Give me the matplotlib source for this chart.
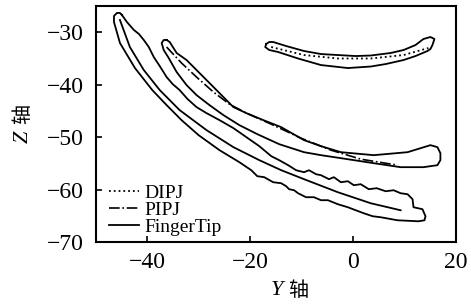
import numpy as np
import matplotlib
matplotlib.use('Agg')
import matplotlib.pyplot as plt

plt.rcParams['font.family'] = ['Liberation Serif', 'Noto Sans CJK SC']
plt.rcParams['axes.unicode_minus'] = True

# centre lines (Y axis, Z axis)
dipj_y = [-15.93, -9.55, -2.96, 3.43, 9.82, 14.64]
dipj_z = [-32.81, -34.34, -35.00, -35.00, -34.34, -33.00]

pipj_y = [-36.28, -33.38, -30.46, -27.17, -24.07, -20.77, -15.94, -10.13, -4.32, 1.49, 8.65]
pipj_z = [-32.81, -35.86, -38.54, -41.40, -43.70, -45.42, -47.52, -50.20, -52.48, -54.20, -55.35]

tip_y = [-45.36, -43.43, -40.72, -37.62, -33.75, -28.52, -23.29, -18.25, -14.00, -9.55, -2.96, 3.43, 9.24]
tip_z = [-27.65, -32.81, -37.20, -41.02, -44.84, -48.66, -51.91, -54.39, -56.30, -58.02, -60.51, -62.61, -63.95]

# outlines of the range around each trajectory
dipj_env_y = [-16.90, -16.32, -15.55, -13.03, -9.55, -6.25, -2.96, 0.52, 3.43, 7.30, 9.82, 12.14, 13.68,
              15.04, 15.82, 15.43, 15.04, 14.46, 12.14, 9.82, 6.33, 3.43, -1.03, -6.25, -10.71, -14.58,
              -16.32, -17.10, -16.90]
dipj_env_z = [-32.23, -31.85, -31.85, -32.62, -33.57, -34.15, -34.34, -34.53, -34.43, -33.95, -33.38, -32.43, -31.28,
              -30.90, -31.28, -32.43, -33.19, -33.57, -34.53, -35.29, -36.06, -36.53, -36.82, -36.25, -35.00, -33.76,
              -33.38, -32.81, -32.23]

pipj_env_y = [-36.28, -35.68, -34.33, -32.40, -30.46, -28.52, -26.58, -24.65, -23.29, -20.77, -17.48, -14.00,
              -9.55, -6.25, -2.38, 4.01, 10.59, 15.04, 16.40, 16.98, 16.98, 16.40,
              13.68, 9.24, 4.01, -2.38, -6.25, -9.55, -14.39, -18.64, -22.13, -25.23, -27.94, -30.46,
              -32.40, -34.33, -35.87, -36.85, -37.24, -36.85, -36.28]
pipj_env_z = [-31.47, -31.85, -33.95, -35.29, -37.20, -39.11, -41.02, -42.93, -44.27, -45.42, -46.75, -48.09,
              -50.57, -51.72, -52.87, -53.44, -52.87, -51.53, -51.91, -53.06, -54.39, -55.35,
              -55.73, -55.73, -54.97, -54.01, -53.44, -52.87, -51.34, -49.43, -47.71, -45.80, -43.89, -41.98,
              -40.07, -37.58, -34.91, -33.38, -32.04, -31.47, -31.47]

tip_env_y = [-44.98, -44.01, -42.65, -41.67, -40.72, -39.75, -38.78, -37.62, -36.28, -35.10, -33.75, -32.20,
             -30.46, -28.52, -26.00, -23.29, -20.77, -18.25, -15.93, -14.39, -12.64, -11.09, -9.55, -8.58,
             -7.22, -6.25, -4.70, -3.74, -2.38, -1.03, 0.14, 1.49, 3.04, 4.59, 6.33, 7.88, 9.24, 10.59,
             11.56, 11.75, 13.49, 14.08, 13.88,
             12.72, 8.65, 5.36, 3.81, 2.07, 0.52, -1.03, -2.96, -4.90, -6.25, -7.62, -9.16, -10.71, -11.48,
             -12.45, -13.03, -14.00, -15.55, -17.29, -18.64, -19.81, -22.13, -26.00, -30.07, -33.38, -36.28,
             -39.07, -42.44, -45.36, -46.52, -46.52, -45.94, -45.36, -44.98]
tip_env_z = [-26.69, -28.03, -29.56, -30.32, -31.47, -32.81, -34.72, -36.44, -38.54, -39.88, -41.02, -42.74,
             -44.27, -45.42, -46.75, -48.28, -50.00, -51.72, -53.63, -54.39, -55.35, -56.31, -56.69, -56.31,
             -57.07, -57.26, -58.02, -57.64, -58.60, -58.41, -59.17, -58.98, -59.93, -59.74, -60.32, -60.13, -60.70, -60.89,
             -61.84, -63.37, -63.75, -65.09, -65.86,
             -66.05, -65.86, -65.28, -65.09, -64.52, -63.95, -63.37, -62.80, -62.03, -62.03, -61.46, -61.46, -60.70, -60.13,
             -59.93, -59.36, -58.79, -58.60, -57.64, -57.45, -56.31, -54.78, -52.48, -49.61, -46.75, -43.89,
             -41.02, -36.82, -32.04, -28.03, -26.89, -26.31, -26.31, -26.69]

fig = plt.figure(figsize=(4.71, 3.04), dpi=100)
ax = fig.add_axes([0.204, 0.204, 0.764, 0.776])

ax.plot(dipj_env_y, dipj_env_z, color='k', lw=1.3)
ax.plot(pipj_env_y, pipj_env_z, color='k', lw=1.3)
ax.plot(tip_env_y, tip_env_z, color='k', lw=1.3)

ax.plot(dipj_y, dipj_z, color='k', lw=1.3, ls=':', label='DIPJ')
ax.plot(pipj_y, pipj_z, color='k', lw=1.2, ls='-.', label='PIPJ')
ax.plot(tip_y, tip_z, color='k', lw=1.3, ls='-', label='FingerTip')

ax.set_xlim(-50, 20)
ax.set_ylim(-70, -25)
ax.set_xticks([-40, -20, 0, 20])
ax.set_yticks([-30, -40, -50, -60, -70])
ax.tick_params(direction='in', length=4, width=1.2, labelsize=17,
               top=False, right=False)
ax.tick_params(axis='x', pad=7)
ax.tick_params(axis='y', pad=9)
for s in ax.spines.values():
    s.set_linewidth(1.5)

ax.legend(loc='lower left', bbox_to_anchor=(0.035, 0.025), frameon=False, fontsize=14,
          handlelength=1.55, handletextpad=0.3, labelspacing=-0.02, borderpad=0, borderaxespad=0)

fig.text(0.588, 0.046, 'Y', fontsize=16, style='italic', ha='center', va='center')
fig.text(0.633, 0.046, '轴', fontsize=14.5, ha='center', va='center', family='Noto Sans CJK SC')
fig.text(0.049, 0.549, 'Z', fontsize=16, style='italic', ha='center', va='center', rotation=90)
fig.text(0.049, 0.625, '轴', fontsize=14.5, ha='center', va='center', rotation=90, family='Noto Sans CJK SC')

fig.savefig('out.png', dpi=100)
